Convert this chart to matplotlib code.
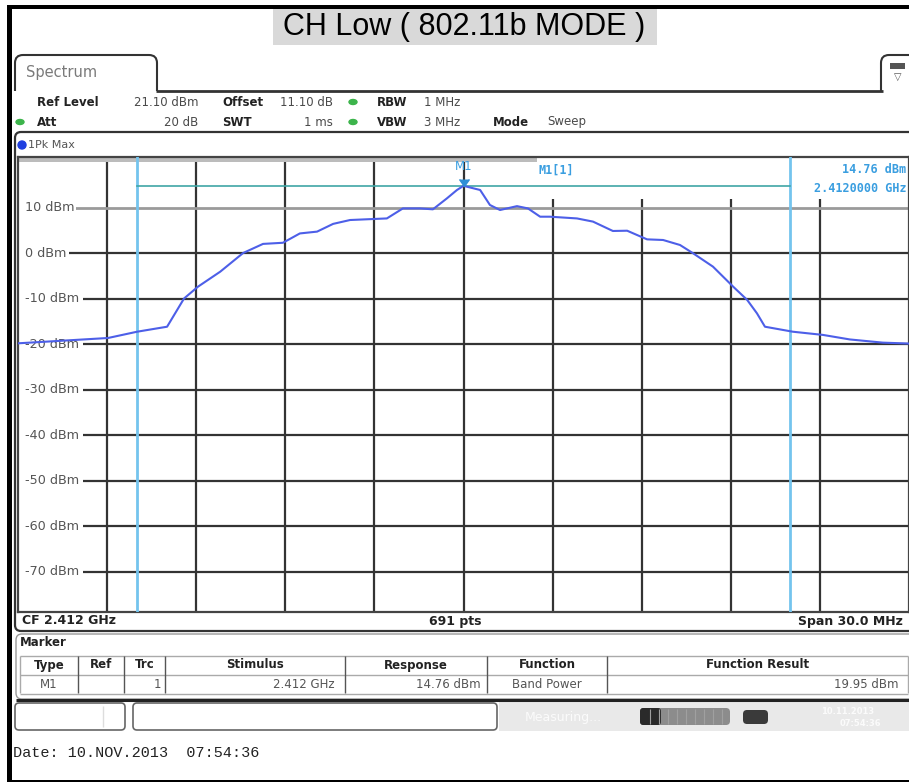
import matplotlib
matplotlib.use('Agg')
import matplotlib.pyplot as plt
from matplotlib.patches import Rectangle, FancyBboxPatch, Ellipse

# ---------------- data ----------------
center_ghz = 2.412
span_mhz = 30.0
ref_level = 21.1
range_db = 100.0
grid_levels = [10, 0, -10, -20, -30, -40, -50, -60, -70]
grid_freqs = [-12, -9, -6, -3, 0, 3, 6, 9, 12]

freq_offset_mhz = [-15.0, -11.97, -10.99, -9.98, -9.41, -8.94, -8.19, -7.42, -6.75, -6.08,
                   -5.51, -4.93, -4.39, -3.82, -2.58, -2.04, -1.46, -1.03, -0.56, -0.22,
                   0.0, 0.56, 0.89, 1.23, 1.80, 2.17, 2.58, 2.91, 3.82, 4.36,
                   5.03, 5.51, 6.18, 6.72, 7.29, 7.73, 8.40, 9.08, 9.55, 9.88,
                   10.15, 11.09, 12.10, 13.01, 14.12, 15.0]
level_dbm = [-19.85, -18.68, -17.3, -16.2, -10.0, -7.4, -4.1, 0.0, 2.0, 2.25,
             4.3, 4.7, 6.4, 7.25, 7.6, 9.8, 9.8, 9.6, 12.0, 13.85,
             14.76, 13.85, 10.55, 9.45, 10.3, 9.8, 7.98, 7.98, 7.6, 6.9,
             4.84, 4.9, 3.0, 2.86, 1.76, -0.06, -3.0, -7.4, -10.3, -13.25,
             -16.2, -17.3, -18.0, -19.0, -19.7, -19.9]

marker_freq = 0.0
marker_level = 14.76
band_limits = [-11.0, 11.0]

title = "CH Low ( 802.11b MODE )"
table_headers = ["Type", "Ref", "Trc", "Stimulus", "Response", "Function", "Function Result"]
table_row = ["M1", "", "1", "2.412 GHz", "14.76 dBm", "Band Power", "19.95 dBm"]

# ---------------- figure ----------------
W, H = 909, 783
fig = plt.figure(figsize=(W / 100, H / 100), dpi=100)
fig.patch.set_facecolor('white')
ui = fig.add_axes([0, 0, 1, 1])
ui.set_xlim(0, W)
ui.set_ylim(H, 0)
ui.axis('off')

SANS = 'DejaVu Sans'
DARK = '#222222'
GREY = '#4a4a4a'


def rect(x0, y0, x1, y1, **kw):
    ui.add_patch(Rectangle((x0, y0), x1 - x0, y1 - y0, **kw))


def rbox(x0, y0, x1, y1, r=6, **kw):
    ui.add_patch(FancyBboxPatch((x0, y0), x1 - x0, y1 - y0,
                                boxstyle=f"round,pad=0,rounding_size={r}", **kw))


def line(xs, ys, **kw):
    ui.plot(xs, ys, solid_capstyle='butt', **kw)


def txt(x, y, s, size=8.5, color=GREY, weight='normal', ha='left', va='center', family=SANS, **kw):
    fig.text(x, y, s, transform=ui.transData, fontsize=size, color=color, fontweight=weight,
             ha=ha, va=va, family=family, **kw)


def dot(x, y, color, w=8, h=5):
    ui.add_patch(Ellipse((x, y), w, h, color=color))


# outer frame
rect(7, 5, W + 2, 9, color='black', lw=0)
rect(7, 5, 12, 782, color='black', lw=0)
rect(7, 780, W + 2, 782, color='black', lw=0)

# title
rect(273, 9, 657, 45, color='#d9d9d9', lw=0)
txt(464, 27.5, title, size=22, color='black', ha='center', family='Liberation Sans')

# spectrum tab
rbox(15, 55, 157, 110, r=8, fc='white', ec='#333333', lw=1.5)
rect(13, 91, 160, 112, color='white', lw=0, zorder=3)
line([156, 883], [90.5, 90.5], color='#333333', lw=2, zorder=4)
txt(26, 73, "Spectrum", size=10.5, color='#7a7a7a')
# icon box top right
rbox(881, 55, 930, 110, r=8, fc='white', ec='#333333', lw=1.5)
rect(879, 91, 912, 112, color='white', lw=0, zorder=3)
rect(890, 63, 905, 69, color='#555555', lw=0, zorder=4)
txt(897.5, 77, "\u25BD", size=7, color='#555555', ha='center')

# header settings
GREEN = '#3cb44b'
txt(37, 102, "Ref Level", weight='bold', color=DARK)
txt(198, 102, "21.10 dBm", ha='right')
txt(222, 102, "Offset", weight='bold', color=DARK)
txt(333, 102, "11.10 dB", ha='right')
dot(353, 102, GREEN)
txt(377, 102, "RBW", weight='bold', color=DARK)
txt(424, 102, "1 MHz")
dot(20, 122, GREEN)
txt(37, 122, "Att", weight='bold', color=DARK)
txt(198, 122, "20 dB", ha='right')
txt(222, 122, "SWT", weight='bold', color=DARK)
txt(333, 122, "1 ms", ha='right')
dot(353, 122, GREEN)
txt(377, 122, "VBW", weight='bold', color=DARK)
txt(424, 122, "3 MHz")
txt(493, 122, "Mode", weight='bold', color=DARK)
txt(547, 122, "Sweep")

# trace / diagram box
rbox(15, 132, 925, 631, r=6, fc='white', ec='#333333', lw=1.6)
dot(22, 145, '#1f3fe0', w=8, h=8)
txt(28, 145, "1Pk Max", size=8, color='#555555')

# bottom diagram row
txt(22, 621, "CF 2.412 GHz", size=9, weight='bold', color=DARK)
txt(455, 621, "691 pts", size=9, weight='bold', color=DARK, ha='center')
txt(903, 621, "Span 30.0 MHz", size=9, weight='bold', color=DARK, ha='right')

# marker table box
rbox(16, 634, 925, 699, r=6, fc='white', ec='#999999', lw=1.0)
line([16, W], [699.5, 699.5], color='#222222', lw=2.2)
txt(20, 643, "Marker", size=8.5, weight='bold', color=DARK)
col_edges = [20, 78, 124, 165, 345, 487, 607, 908]
line([20, 908], [655.5, 655.5], color='#aaaaaa', lw=1)
line([20, 908], [674.5, 674.5], color='#aaaaaa', lw=1)
line([20, 908], [693.5, 693.5], color='#aaaaaa', lw=1)
for xe in col_edges:
    line([xe, xe], [656, 693], color='#555555' if xe not in (20, 908) else '#aaaaaa', lw=1)
for i, hdr in enumerate(table_headers):
    cx = (col_edges[i] + col_edges[i + 1]) / 2
    txt(cx, 665, hdr, size=8.5, weight='bold', color=DARK, ha='center')
row_pos = [(49, 'center'), (101, 'center'), (161, 'right'), (335, 'right'),
           (481, 'right'), (547, 'center'), (899, 'right')]
for (xp, al), val in zip(row_pos, table_row):
    txt(xp, 684, val, size=8.5, color='#555555', ha=al)

# status bar
rbox(15, 703, 125, 730, r=4, fc='white', ec='#666666', lw=1.2)
line([103, 103], [706, 727], color='#dddddd', lw=1)
rbox(133, 703, 497, 730, r=4, fc='white', ec='#666666', lw=1.2)
rect(499, 702, W, 731, color='#e9e9e9', lw=0)
txt(525, 718, "Measuring...", size=9, color='#fbfbfb')
rbox(640, 708, 730, 725, r=4, fc='#8c8c8c', ec='none')
rbox(640, 708, 661, 725, r=3, fc='#2a2a2a', ec='none')
for xs in range(650, 730, 9):
    line([xs, xs], [709, 724], color='#a0a0a0', lw=0.8)
rbox(743, 710, 768, 724, r=4, fc='#3a3a3a', ec='none')
txt(848, 711, "10.11.2013", size=6, weight='bold', color='#fbfbfb', ha='center')
txt(860, 723, "07:54:36", size=6, weight='bold', color='#fbfbfb', ha='center')

# date line
txt(13, 753, "Date: 10.NOV.2013  07:54:36", size=10.9, color='#222222', family='Liberation Mono')

# ---------------- diagram axes ----------------
px_l, px_r, px_t, px_b = 18, 909, 157, 612
ax = fig.add_axes([px_l / W, (H - px_b) / H, (px_r - px_l) / W, (px_b - px_t) / H])
ax.set_facecolor('white')
ax.set_xlim(-span_mhz / 2, span_mhz / 2)
ax.set_ylim(ref_level - range_db, ref_level)
ax.set_xticks([])
ax.set_yticks([])
for s in ax.spines.values():
    s.set_color('#444444')
    s.set_linewidth(1.6)

for f in grid_freqs:
    ax.axvline(f, color='#333333', lw=1.6, zorder=1)
ylab_tr = ax.get_yaxis_transform()
for lv in grid_levels:
    label = f"{lv} dBm"
    ax.axhline(lv, color='#9a9a9a' if lv == 10 else '#333333', lw=2.0 if lv == 10 else 1.6, zorder=1)
    ax.add_patch(Rectangle((0.0, lv - 1.5), (7.2 * len(label) + 15) / (px_r - px_l), 3.0,
                           transform=ylab_tr, color='white', lw=0, zorder=2))
    ax.text(0.0075, lv, label, transform=ylab_tr, fontsize=9.2,
            color='#555555', ha='left', va='center', family=SANS, zorder=2.5)

# top grey band and marker info area
ax.add_patch(Rectangle((0, 0.988), 0.5825, 0.012, transform=ax.transAxes,
                       color='#bcbcbc', lw=0, zorder=2))
ax.add_patch(Rectangle((0.5825, 0.908), 0.4175, 0.090, transform=ax.transAxes,
                       color='white', lw=0, zorder=2))

# band power limits and marker level line
for bl in band_limits:
    ax.axvline(bl, color='#74c4ee', lw=2, zorder=3)
ax.plot([band_limits[0], band_limits[1]], [marker_level, marker_level], color='#3fa6a6', lw=1.2, zorder=3)

# trace
ax.plot(freq_offset_mhz, level_dbm, color='#4d5fe8', lw=1.5, zorder=4)

# marker
MBLUE = '#3a9ee0'
ax.plot([marker_freq], [marker_level], marker=7, color='#2f8fd6', ms=7, zorder=5, linestyle='none')
ax.annotate("M1", xy=(marker_freq, marker_level), xytext=(0, 14), textcoords='offset points',
            ha='center', va='center', fontsize=8.5, color=MBLUE, family=SANS, zorder=6)
ax.text(0.584, 0.972, "M1[1]", transform=ax.transAxes, fontsize=8.5, color=MBLUE,
        weight='bold', ha='left', va='center', family='DejaVu Sans Mono', zorder=6)
ax.text(0.997, 0.972, f"{marker_level:.2f} dBm", transform=ax.transAxes, fontsize=8.5, color=MBLUE,
        weight='bold', ha='right', va='center', family='DejaVu Sans Mono', zorder=6)
ax.text(0.997, 0.931, f"{center_ghz + marker_freq / 1000:.7f} GHz", transform=ax.transAxes,
        fontsize=8.5, color=MBLUE, weight='bold', ha='right', va='center',
        family='DejaVu Sans Mono', zorder=6)

fig.savefig('out.png', dpi=100, facecolor='white')
